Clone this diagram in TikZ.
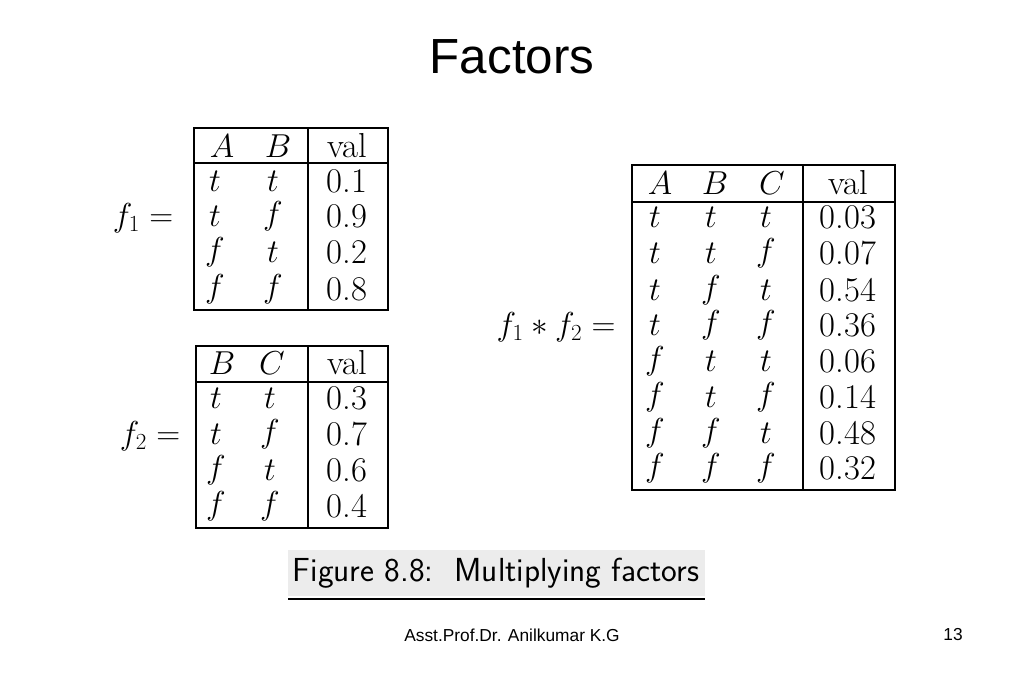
\documentclass[tikz,border=0pt]{standalone}
\usepackage{amsmath,amssymb}
\usepackage{fontspec}
\newfontfamily\arialfont{Liberation Sans}
\usepackage{tikz}
\usetikzlibrary{positioning}
\usepackage{xcolor}
\definecolor{capgray}{RGB}{236,236,236}
\tikzset{
  cell/.style={font=\fontsize{26}{28}\selectfont, inner sep=0pt},
  tabline/.style={line width=0.9pt}
}
\begin{document}
\begin{tikzpicture}[x=0.75pt,y=0.75pt,yscale=-1,xscale=1]
\useasboundingbox (0,0) rectangle (1024,683);

% Title
\node (title) at (512,57) {\arialfont\fontsize{37}{40}\selectfont Factors};

% Table f1
\draw[tabline] (194,128) rectangle (388,310);
\draw[tabline] (308,128) -- (308,310);
\draw[tabline] (194,163) -- (388,163);
\node[cell] (fonelab) at (143,218) {$f_1 =$};
\node[cell] (fonehA) at (222,146) {$A$};
\node[cell] (fonehB) at (278,146) {$B$};
\node[cell] (fonehv) at (347,146) {val};
\foreach \a/\b/\v/\y in {t/t/0.1/181, t/f/0.9/216, f/t/0.2/252, f/f/0.8/289}{
  \node[cell] at (215,\y) {$\a$};
  \node[cell] at (273,\y) {$\b$};
  \node[cell] at (347,\y) {\v};
}

% Table f2
\draw[tabline] (196,346) rectangle (388,528);
\draw[tabline] (308,346) -- (308,528);
\draw[tabline] (196,382) -- (388,382);
\node[cell] (ftwolab) at (150,436) {$f_2 =$};
\node[cell] (ftwohB) at (222,363) {$B$};
\node[cell] (ftwohC) at (272,363) {$C$};
\node[cell] (ftwohv) at (347,363) {val};
\foreach \a/\b/\v/\y in {t/t/0.3/398, t/f/0.7/434, f/t/0.6/470, f/f/0.4/506}{
  \node[cell] at (216,\y) {$\a$};
  \node[cell] at (270,\y) {$\b$};
  \node[cell] at (347,\y) {\v};
}

% Product table
\draw[tabline] (632,165) rectangle (895,490);
\draw[tabline] (803,165) -- (803,490);
\draw[tabline] (632,202) -- (895,202);
\node[cell] (prodlab) at (556,327) {$f_1 * f_2 =$};
\node[cell] (prodhA) at (660,183) {$A$};
\node[cell] (prodhB) at (715,183) {$B$};
\node[cell] (prodhC) at (772,183) {$C$};
\node[cell] (prodhv) at (848,183) {val};
\foreach \a/\b/\c/\v/\y in {t/t/t/0.03/217, t/t/f/0.07/253, t/f/t/0.54/290, t/f/f/0.36/325,
                            f/t/t/0.06/361, f/t/f/0.14/397, f/f/t/0.48/433, f/f/f/0.32/468}{
  \node[cell] at (655,\y) {$\a$};
  \node[cell] at (711,\y) {$\b$};
  \node[cell] at (766,\y) {$\c$};
  \node[cell] at (848,\y) {\v};
}

% Caption
\fill[capgray] (288,550) rectangle (705,596);
\draw[line width=2.2pt] (288,599) -- (705,599);
\node (caption) at (496,573) {\sffamily\fontsize{25}{28}\selectfont Figure 8.8:\ \ Multiplying factors};

% Footer
\node (author) at (512,635) {\arialfont\fontsize{13}{15}\selectfont Asst.Prof.Dr. Anilkumar K.G};
\node (page) at (953,635) {\arialfont\fontsize{13}{15}\selectfont 13};
\end{tikzpicture}
\end{document}
